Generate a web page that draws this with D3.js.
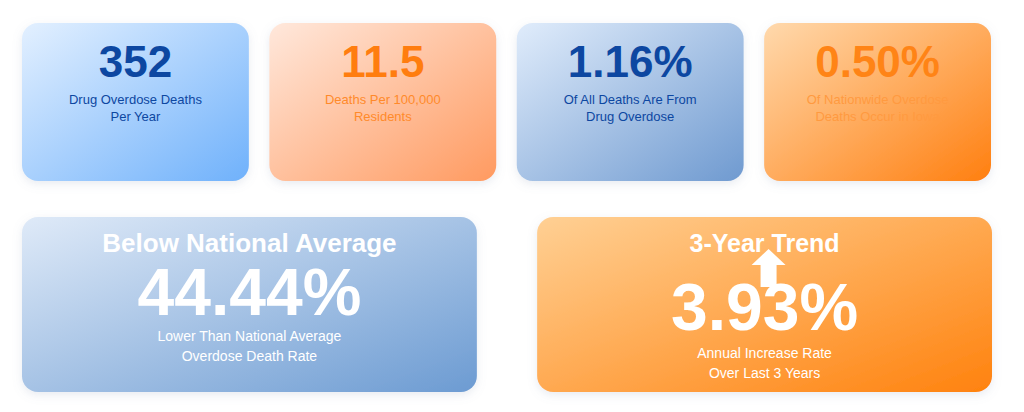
<!doctype html>
<html>
<head>
<meta charset="utf-8">
<script src="https://d3js.org/d3.v7.min.js"></script>
<style>
  body { margin: 0; background: #fff; font-family: "Liberation Sans", Arial, sans-serif; }
</style>
</head>
<body>
<svg id="chart" width="1024" height="412"></svg>
<script>
// top row stats
var topValues = ["352", "11.5", "1.16%", "0.50%"];
var topLabels = [["Drug Overdose Deaths", "Per Year"], ["Deaths Per 100,000", "Residents"],
                 ["Of All Deaths Are From", "Drug Overdose"], ["Of Nationwide Overdose", "Deaths Occur in Iowa"]];
var topTheme = ["blue", "peach", "steel", "orange"];
// bottom row
var bottomTitles = ["Below National Average", "3-Year Trend"];
var bottomValues = ["44.44%", "3.93%"];
var bottomLabels = [["Lower Than National Average", "Overdose Death Rate"], ["Annual Increase Rate", "Over Last 3 Years"]];
var bottomTheme = ["steel2", "orange2"];

var themes = {
  blue:    { a: "#e3f0ff", b: "#6fb1fb", text: "#0d47a1", sub: "#0d47a1" },
  peach:   { a: "#ffe8dc", b: "#ff9a60", text: "#ff7d0f", sub: "#ff8a2a" },
  steel:   { a: "#e0ecfb", b: "#6f9ad0", text: "#0d47a1", sub: "#0d47a1" },
  orange:  { a: "#ffd9ad", b: "#ff7f10", text: "#ff8416", sub: "#ff9a40" },
  steel2:  { a: "#dfeaf8", b: "#6c9bd2", text: "#fff", sub: "#fff" },
  orange2: { a: "#ffd094", b: "#ff820e", text: "#fff", sub: "#fff" }
};

var svg = d3.select("#chart");
var defs = svg.append("defs");
Object.keys(themes).forEach(function(k) {
  var g = defs.append("linearGradient").attr("id", "g-" + k)
    .attr("x1", "0%").attr("y1", "0%").attr("x2", "100%").attr("y2", "100%");
  g.append("stop").attr("offset", "0%").attr("stop-color", themes[k].a);
  g.append("stop").attr("offset", "100%").attr("stop-color", themes[k].b);
});
var f = defs.append("filter").attr("id", "shadow").attr("x", "-10%").attr("y", "-10%").attr("width", "120%").attr("height", "130%");
f.append("feDropShadow").attr("dx", 0).attr("dy", 3).attr("stdDeviation", 5)
  .attr("flood-color", "#8090b0").attr("flood-opacity", 0.18);

var xTop = d3.scaleBand().domain(d3.range(topValues.length)).range([22, 991]).paddingInner(0.083);
var xBot = d3.scaleBand().domain(d3.range(bottomValues.length)).range([22, 992]).paddingInner(0.117);

var topCards = svg.selectAll("g.top").data(topValues).enter().append("g")
  .attr("class", "top")
  .attr("transform", function(d, i) { return "translate(" + xTop(i) + ",23)"; });
topCards.append("rect")
  .attr("width", xTop.bandwidth()).attr("height", 158).attr("rx", 16)
  .attr("fill", function(d, i) { return "url(#g-" + topTheme[i] + ")"; })
  .attr("filter", "url(#shadow)");
topCards.append("text")
  .attr("x", xTop.bandwidth() / 2).attr("y", 54)
  .attr("text-anchor", "middle").attr("font-size", 44).attr("font-weight", "bold")
  .attr("fill", function(d, i) { return themes[topTheme[i]].text; })
  .text(function(d) { return d; });
topCards.each(function(d, i) {
  var g = d3.select(this);
  topLabels[i].forEach(function(t, j) {
    g.append("text").attr("x", xTop.bandwidth() / 2).attr("y", 81 + j * 17)
      .attr("text-anchor", "middle").attr("font-size", 13)
      .attr("fill", themes[topTheme[i]].sub).text(t);
  });
});

var botCards = svg.selectAll("g.bot").data(bottomValues).enter().append("g")
  .attr("class", "bot")
  .attr("transform", function(d, i) { return "translate(" + xBot(i) + ",217)"; });
botCards.append("rect")
  .attr("width", xBot.bandwidth()).attr("height", 175).attr("rx", 16)
  .attr("fill", function(d, i) { return "url(#g-" + bottomTheme[i] + ")"; })
  .attr("filter", "url(#shadow)");
botCards.append("text")
  .attr("x", xBot.bandwidth() / 2).attr("y", 35)
  .attr("text-anchor", "middle").attr("font-size", function(d, i) { return i ? 25 : 26; })
  .attr("font-weight", "bold").attr("fill", "#fff")
  .text(function(d, i) { return bottomTitles[i]; });
botCards.append("text")
  .attr("x", xBot.bandwidth() / 2).attr("y", function(d, i) { return i ? 113 : 98; })
  .attr("text-anchor", "middle").attr("font-size", 66).attr("font-weight", "bold").attr("fill", "#fff")
  .text(function(d) { return d; });
botCards.each(function(d, i) {
  var g = d3.select(this);
  var y0 = i ? 141 : 124;
  bottomLabels[i].forEach(function(t, j) {
    g.append("text").attr("x", xBot.bandwidth() / 2).attr("y", y0 + j * 20)
      .attr("text-anchor", "middle").attr("font-size", 14).attr("fill", "#fff").text(t);
  });
});
// up arrow in trend card
var c = xBot.bandwidth() / 2 + 4;
botCards.filter(function(d, i) { return i === 1; }).append("path")
  .attr("d", "M" + c + ",32 l17,16 h-9 v22 h-16 v-22 h-9 z")
  .attr("fill", "#fff");
</script>
</body>
</html>
